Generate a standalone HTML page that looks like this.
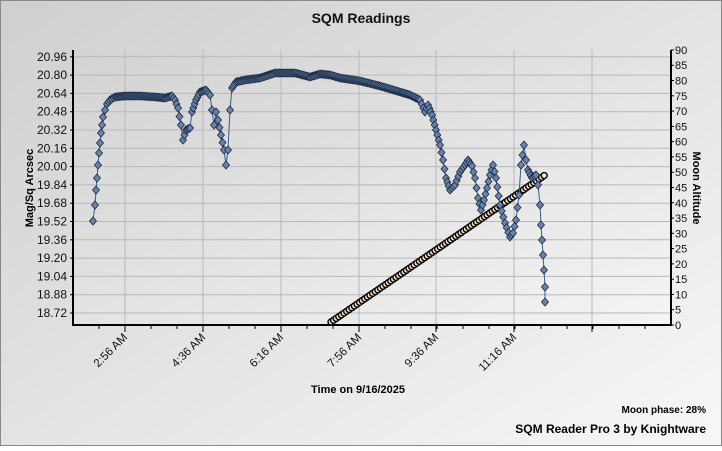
<!DOCTYPE html>
<html><head><style>
html,body{margin:0;padding:0;}
body{width:722px;height:446px;overflow:hidden;}
</style></head><body>
<svg id="s" width="722" height="446" xmlns="http://www.w3.org/2000/svg" font-family="Liberation Sans, Arial, sans-serif">
<defs>
<linearGradient id="bg" x1="0" y1="0" x2="1" y2="1">
<stop offset="0" stop-color="#cfcfcf"/><stop offset="1" stop-color="#f7f7f7"/>
</linearGradient>
<linearGradient id="pa" x1="0" y1="0" x2="1" y2="1">
<stop offset="0" stop-color="#d2d2d2"/><stop offset="1" stop-color="#f4f4f4"/>
</linearGradient>
</defs>
<rect x="0.5" y="0.5" width="721" height="445" fill="url(#bg)" stroke="#888"/>
<rect x="73" y="50" width="598" height="275" fill="url(#pa)"/>
<g id="grid" stroke="#b8b8b8" stroke-width="1"></g>
<text x="361" y="23" font-size="14" font-weight="bold" text-anchor="middle" fill="#111">SQM Readings</text>
<g id="ax" font-size="12" fill="#111"></g>
<text transform="translate(33,188) rotate(-90)" font-size="11" font-weight="bold" text-anchor="middle">Mag/Sq Arcsec</text>
<text transform="translate(693,188) rotate(90)" font-size="11" font-weight="bold" text-anchor="middle">Moon Altitude</text>
<text x="358" y="393" font-size="11" font-weight="bold" text-anchor="middle">Time on 9/16/2025</text>
<text x="706" y="413" font-size="10" font-weight="bold" text-anchor="end">Moon phase: 28%</text>
<text x="706" y="433" font-size="12" font-weight="bold" text-anchor="end">SQM Reader Pro 3 by Knightware</text>
<g id="data"></g>
</svg>
<script>
var NS="http://www.w3.org/2000/svg";
function el(p,t,a,txt){var e=document.createElementNS(NS,t);for(var k in a)e.setAttribute(k,a[k]);if(txt!=null)e.textContent=txt;document.getElementById(p).appendChild(e);return e;}
for(var i=0;i<15;i++){var y=313-18.3*i;el("grid","line",{x1:73,x2:671,y1:y,y2:y});
el("ax","text",{x:67,y:y+4,"text-anchor":"end"},(18.72+0.16*i).toFixed(2));
el("ax","line",{x1:70,x2:73,y1:y,y2:y,stroke:"#000"});}
var xs=[125,203,281,359,436,514,592],labs=["2:56 AM","4:36 AM","6:16 AM","7:56 AM","9:36 AM","11:16 AM",""];
for(var i=0;i<xs.length;i++){el("grid","line",{x1:xs[i],x2:xs[i],y1:50,y2:325});
el("ax","line",{x1:xs[i],x2:xs[i],y1:325,y2:332,stroke:"#000"});
if(labs[i])el("ax","text",{x:0,y:0,"text-anchor":"end","font-size":"11.5",transform:"translate("+(xs[i]+3)+",338) rotate(-45)"},labs[i]);}
for(var x=73+26;x<671;x+=26)el("ax","line",{x1:x,x2:x,y1:325,y2:329,stroke:"#000"});
for(var i=0;i<=18;i++){var y=325-i*15.28;el("ax","text",{x:675,y:y+4,"font-size":"11"},String(i*5));
el("ax","line",{x1:671,x2:674,y1:y,y2:y,stroke:"#000"});}
el("ax","line",{x1:73,x2:73,y1:50,y2:326,stroke:"#000","stroke-width":2});
el("ax","line",{x1:671,x2:671,y1:50,y2:326,stroke:"#000","stroke-width":2});
el("ax","line",{x1:72,x2:672,y1:325,y2:325,stroke:"#000","stroke-width":2});
for(var x=331;x<=545;x+=2.6){var y=322-(x-331)*(147/214);el("data","circle",{cx:x,cy:y,r:3,fill:"#f8dfc4",stroke:"#000","stroke-width":1.4});}
var P=[[93,221],[95,205],[96,190],[97,178],[98,165],[99,153],[100,143],[101,133],[102,125],[103,117],[105,110],[107,104],[110,100],[115,97],[125,96],[140,96],[155,97],[165,98],[172,96],[175,100],[178,108],[181,125],[183,140],[186,130],[190,128],[192,112],[196,100],[200,92],[206,90],[210,95],[212,110],[214,125],[216,112],[218,120],[221,135],[224,150],[226,165],[228,150],[230,110],[232,88],[236,82],[245,80],[260,78],[275,73],[295,73],[310,77],[320,74],[330,75],[340,78],[360,81],[380,86],[400,92],[410,95],[420,100],[425,112],[428,105],[432,115],[436,130],[440,145],[443,160],[446,178],[450,190],[455,185],[460,172],[465,165],[468,160],[472,166],[475,178],[478,198],[481,210],[484,200],[487,188],[490,175],[493,165],[496,178],[500,205],[505,223],[510,237],[513,233],[516,220],[519,195],[521,165],[524,145],[526,160],[528,170],[532,178],[536,175],[538,185],[540,205],[541,225],[542,240],[543,255],[544,270],[545,287],[545,302]];
var pts=[];
for(var i=0;i<P.length-1;i++){var a=P[i],b=P[i+1],dx=b[0]-a[0],n=Math.max(1,Math.round(dx/1.5));
for(var j=0;j<n;j++)pts.push([a[0]+dx*j/n,a[1]+(b[1]-a[1])*j/n]);}
pts.push(P[P.length-1]);
el("data","polyline",{points:P.map(function(p){return p.join(",")}).join(" "),fill:"none",stroke:"#3a5a8a","stroke-width":1});
pts.forEach(function(p){var x=p[0],y=p[1];el("data","polygon",{points:(x)+","+(y-4)+" "+(x+3.5)+","+y+" "+x+","+(y+4)+" "+(x-3.5)+","+y,fill:"#6a82aa",stroke:"#1a2a44","stroke-width":0.8});});
</script>
</body></html>
